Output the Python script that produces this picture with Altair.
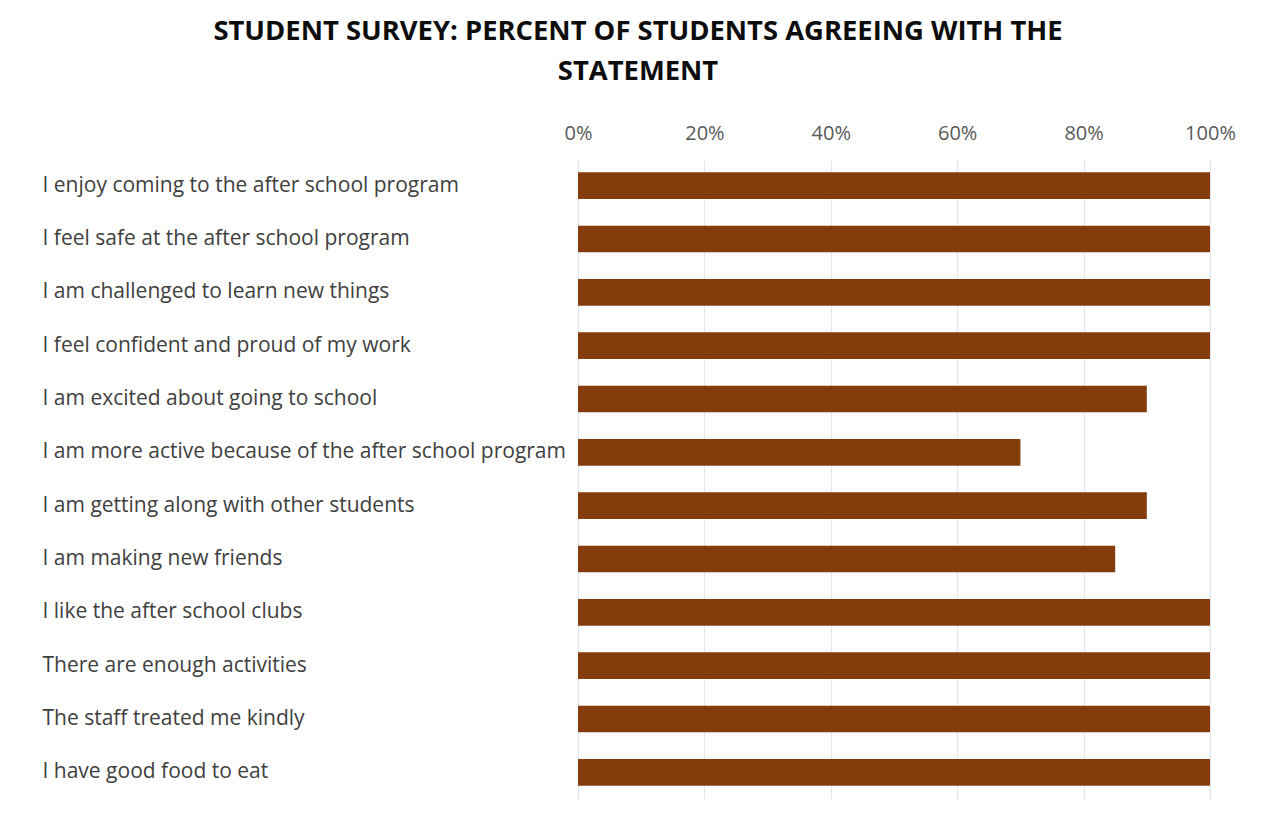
import altair as alt
import pandas as pd

statements = [
    "I enjoy coming to the after school program",
    "I feel safe at the after school program",
    "I am challenged to learn new things",
    "I feel confident and proud of my work",
    "I am excited about going to school",
    "I am more active because of the after school program",
    "I am getting along with other students",
    "I am making new friends",
    "I like the after school clubs",
    "There are enough activities",
    "The staff treated me kindly",
    "I have good food to eat",
]
percent_agree = [1.00, 1.00, 1.00, 1.00, 0.90, 0.70, 0.90, 0.85, 1.00, 1.00, 1.00, 1.00]
x_ticks = [0, 0.2, 0.4, 0.6, 0.8, 1.0]

df = pd.DataFrame({"statement": statements, "pct": percent_agree})

chart = (
    alt.Chart(df)
    .mark_bar(color="#843C0C")
    .encode(
        x=alt.X(
            "pct:Q",
            scale=alt.Scale(domain=[0, 1], nice=False),
            axis=alt.Axis(
                orient="top",
                format=".0%",
                values=x_ticks,
                title=None,
                domain=False,
                ticks=False,
                labelFlush=False,
                labelPadding=16,
                labelFontSize=20,
                labelColor="#595959",
                labelFont="Open Sans",
                gridColor="#E3E6EC",
                gridWidth=1.2,
            ),
        ),
        y=alt.Y(
            "statement:N",
            sort=statements,
            scale=alt.Scale(paddingInner=0.5, paddingOuter=0.25),
            axis=alt.Axis(
                title=None,
                domain=False,
                ticks=False,
                tickSize=0,
                grid=False,
                labelAlign="left",
                labelPadding=536,
                labelFontSize=21,
                labelColor="#404040",
                labelFont="Open Sans",
                labelLimit=600,
            ),
        ),
    )
    .properties(
        width=632,
        height=640,
        title=alt.TitleParams(
            text=["STUDENT SURVEY: PERCENT OF STUDENTS AGREEING WITH THE", "STATEMENT"],
            font="Open Sans",
            fontSize=27.4,
            fontWeight="bold",
            color="#0D0D0D",
            lineHeight=40,
            anchor="middle",
            frame="group",
            dx=-256,
            offset=38,
        ),
        padding={"left": 42, "top": 17, "right": 20, "bottom": 5},
    )
    .configure(background="white")
    .configure_view(stroke=None)
)

chart.save("out.html", embed_options={"renderer": "svg", "actions": False})
